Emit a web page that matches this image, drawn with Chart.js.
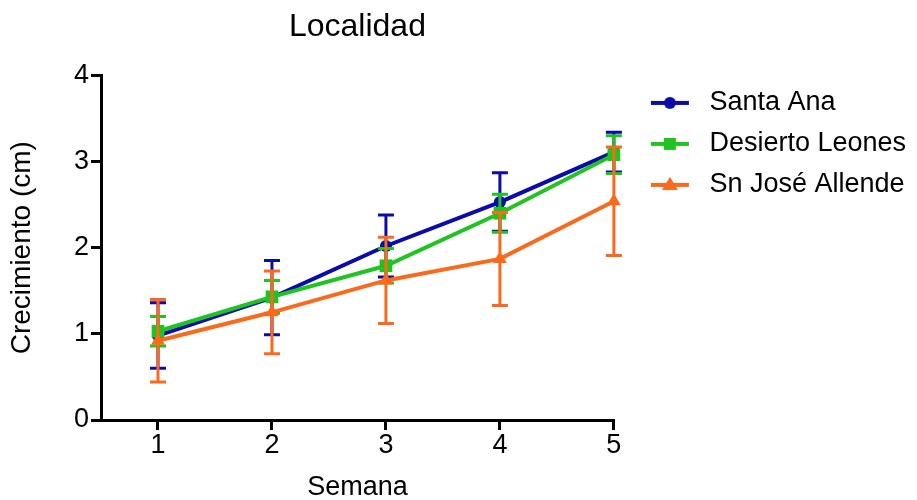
<!DOCTYPE html>
<html><head><meta charset="utf-8">
<script src="https://cdn.jsdelivr.net/npm/chart.js@4.4.1/dist/chart.umd.min.js"></script>
<style>html,body{margin:0;padding:0;background:#fff;}</style>
</head><body>
<canvas id="c" width="917" height="500" style="width:917px;height:500px;display:block"></canvas>
<script>
// ---- data ----
const weeks = [1, 2, 3, 4, 5];
const tickLabels = ['1', '2', '3', '4', '5'];
const seriesNames = ['Santa Ana', 'Desierto Leones', 'Sn José Allende'];
const santaAna = [0.98, 1.42, 2.02, 2.53, 3.11];
const santaAnaErr = [0.38, 0.43, 0.36, 0.34, 0.23];
const desierto = [1.03, 1.43, 1.79, 2.40, 3.08];
const desiertoErr = [0.17, 0.19, 0.20, 0.22, 0.22];
const snJose = [0.92, 1.25, 1.62, 1.87, 2.54];
const snJoseErr = [0.48, 0.48, 0.50, 0.54, 0.63];

const FONT = '"Liberation Sans", Arial, sans-serif';
const colors = ['#0b0bab', '#20c420', '#fa6a1c'];
const styles = ['circle', 'rect', 'triangle'];
const radii = [6, 9, 8];

function pts(vals) { return weeks.map((w, i) => ({x: w, y: vals[i]})); }

function legendIcon(i) {
  const cv = document.createElement('canvas');
  cv.width = 68; cv.height = 20;
  const g = cv.getContext('2d');
  g.strokeStyle = colors[i]; g.fillStyle = colors[i]; g.lineWidth = 4;
  g.beginPath(); g.moveTo(23, 10); g.lineTo(61, 10); g.stroke();
  const cx = 42, cy = 10;
  g.beginPath();
  if (styles[i] === 'circle') { g.arc(cx, cy, 6, 0, Math.PI * 2); }
  else if (styles[i] === 'rect') { g.rect(cx - 6, cy - 6, 12, 12); }
  else { g.moveTo(cx, cy - 8); g.lineTo(cx + 8, cy + 5); g.lineTo(cx - 8, cy + 5); g.closePath(); }
  g.fill();
  return cv;
}
const icons = [0, 1, 2].map(legendIcon);

const errorBars = {
  id: 'errorBars',
  afterDatasetDraw(chart, args) {
    const ds = chart.data.datasets[args.index];
    if (!ds.errors) return;
    const ctx = chart.ctx, xs = chart.scales.x, ys = chart.scales.y;
    ctx.save();
    ctx.strokeStyle = ds.borderColor; ctx.lineWidth = 3;
    ds.data.forEach((p, i) => {
      const e = ds.errors[i];
      const x = xs.getPixelForValue(p.x);
      const y1 = ys.getPixelForValue(p.y + e), y2 = ys.getPixelForValue(p.y - e);
      ctx.beginPath();
      ctx.moveTo(x, y1); ctx.lineTo(x, y2);
      ctx.moveTo(x - 8, y1); ctx.lineTo(x + 8, y1);
      ctx.moveTo(x - 8, y2); ctx.lineTo(x + 8, y2);
      ctx.stroke();
    });
    ctx.restore();
  }
};

const values = [santaAna, desierto, snJose];
const errs = [santaAnaErr, desiertoErr, snJoseErr];
const datasets = [0, 1, 2].map(i => ({
  label: seriesNames[i],
  data: pts(values[i]),
  errors: errs[i],
  borderColor: colors[i],
  backgroundColor: colors[i],
  borderWidth: 4,
  pointStyle: styles[i],
  pointRadius: radii[i],
  pointBorderWidth: 0,
  pointBackgroundColor: colors[i],
  tension: 0,
  clip: false,
  order: 2 - i
}));

new Chart(document.getElementById('c'), {
  type: 'line',
  data: { datasets },
  plugins: [errorBars],
  options: {
    responsive: false,
    animation: false,
    devicePixelRatio: 1,
    layout: { padding: { left: 0, right: 1, top: 0, bottom: 0 } },
    plugins: {
      tooltip: { enabled: false },
      title: {
        display: true, text: 'Localidad', color: '#000', fullSize: false,
        font: { family: FONT, size: 32, weight: 'normal', lineHeight: 1.2 },
        padding: { top: 8, bottom: 29 }
      },
      legend: {
        position: 'right', align: 'start', fullSize: false, maxWidth: 400,
        labels: {
          usePointStyle: true, pointStyleWidth: 68, padding: 14, color: '#000',
          font: { family: FONT, size: 27 },
          generateLabels(chart) {
            const items = Chart.defaults.plugins.legend.labels.generateLabels(chart);
            items.forEach(it => { it.pointStyle = icons[it.datasetIndex]; });
            return items.sort((a, b) => a.datasetIndex - b.datasetIndex);
          }
        }
      }
    },
    scales: {
      x: {
        type: 'linear', min: 0.5, max: 5,
        afterBuildTicks: s => { s.ticks = weeks.map(v => ({ value: v })); },
        afterFit: s => { s.height = 80; },
        ticks: {
          color: '#000', padding: 2, autoSkip: false, maxRotation: 0,
          font: { family: FONT, size: 27, lineHeight: 1 },
          callback: v => tickLabels[weeks.indexOf(v)]
        },
        grid: { drawOnChartArea: false, color: '#000', lineWidth: 3, tickLength: 10 },
        border: { color: '#000', width: 3 },
        title: { display: true, text: 'Semana', color: '#000', padding: 0,
          font: { family: FONT, size: 27, lineHeight: 0.9 } }
      },
      y: {
        min: 0, max: 4,
        afterFit: s => { s.width = 101; },
        ticks: { stepSize: 1, color: '#000', padding: 2,
          font: { family: FONT, size: 27, lineHeight: 1 } },
        grid: { drawOnChartArea: false, color: '#000', lineWidth: 3, tickLength: 10 },
        border: { color: '#000', width: 3 },
        title: { display: true, text: 'Crecimiento (cm)', color: '#000', padding: { top: 5, bottom: 0 },
          font: { family: FONT, size: 28, lineHeight: 1.2 } }
      }
    }
  }
});
</script>
</body></html>
